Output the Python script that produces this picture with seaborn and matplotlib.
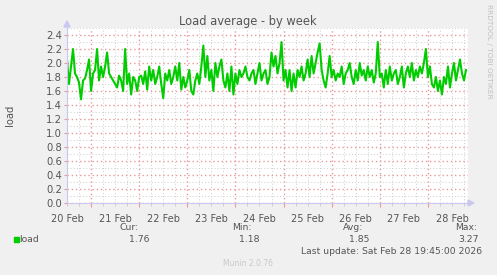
import numpy as np
import pandas as pd
import matplotlib
matplotlib.use("Agg")
import matplotlib.pyplot as plt
import matplotlib.dates as mdates
from matplotlib.patches import Rectangle
from matplotlib.ticker import MultipleLocator, FormatStrFormatter
import seaborn as sns

# ---- data ----
start_time = "2026-02-20 12:00"
load_values = [
    2.05, 1.70, 1.95, 2.20, 1.85, 1.80, 1.72, 1.48, 1.75, 1.78,
    1.90, 2.05, 1.60, 1.85, 1.90, 2.20, 1.75, 1.95, 1.80, 1.95,
    2.15, 1.85, 1.80, 1.75, 1.70, 1.65, 1.82, 1.75, 1.60, 2.20,
    1.70, 1.85, 1.55, 1.80, 1.75, 1.60, 1.80, 1.82, 1.70, 1.88,
    1.62, 1.95, 1.75, 1.90, 1.70, 1.80, 1.95, 1.70, 1.50, 1.85,
    1.75, 1.90, 1.70, 1.80, 1.95, 1.75, 2.00, 1.62, 1.80, 1.65,
    1.75, 1.90, 1.60, 1.55, 1.75, 1.85, 1.70, 1.95, 2.25, 1.80,
    2.10, 1.75, 1.90, 1.60, 2.00, 1.80, 1.95, 2.05, 1.75, 1.65,
    1.85, 1.60, 1.95, 1.55, 1.85, 1.70, 1.90, 1.80, 1.85, 1.95,
    1.80, 1.75, 1.85, 1.90, 1.70, 1.85, 2.00, 1.75, 1.85, 1.90,
    1.70, 1.80, 2.15, 1.95, 2.10, 1.85, 2.00, 2.30, 1.75, 1.90,
    1.65, 1.90, 1.60, 1.85, 1.65, 1.90, 1.80, 1.95, 1.75, 1.85,
    2.05, 1.80, 2.10, 1.85, 2.00, 2.15, 2.28, 1.90, 1.75, 1.65,
    1.85, 2.10, 1.80, 1.90, 1.75, 1.85, 1.80, 1.95, 1.70, 1.85,
    1.90, 2.00, 1.80, 1.70, 1.90, 1.75, 2.00, 1.82, 1.90, 1.75,
    1.95, 1.80, 1.90, 1.72, 1.85, 2.30, 1.80, 1.85, 1.65, 1.90,
    1.70, 1.95, 1.75, 1.85, 1.90, 1.70, 1.80, 1.95, 1.65, 1.85,
    1.95, 1.80, 2.00, 1.75, 1.90, 1.80, 1.95, 1.85, 2.00, 2.20,
    1.80, 1.95, 1.70, 1.65, 1.80, 1.60, 1.75, 1.55, 1.80, 1.70,
    1.95, 1.65, 1.85, 2.00, 1.75, 1.90, 2.05, 1.85, 1.75, 1.90,
]
day_labels = ["20 Feb", "21 Feb", "22 Feb", "23 Feb", "24 Feb",
              "25 Feb", "26 Feb", "27 Feb", "28 Feb"]
legend_headers = ["Cur:", "Min:", "Avg:", "Max:"]
legend_values = ["1.76", "1.18", "1.85", "3.27"]
series_name = "load"
last_update = "Last update: Sat Feb 28 19:45:00 2026"

times = pd.date_range(start_time, periods=len(load_values), freq="h")
df = pd.DataFrame({"time": times, "load": load_values})

W, H = 497, 275
fig = plt.figure(figsize=(W / 100, H / 100), dpi=100, facecolor="#f0f0f0")

def fx(px):
    return px / W

def fy(py):
    return 1 - py / H

L, R, T, B = 67, 468, 28, 203
ax = fig.add_axes([fx(L), fy(B), fx(R) - fx(L), fy(T) - fy(B)])
ax.set_facecolor("white")

t0 = pd.Timestamp(start_time)
ax.set_xlim(t0, t0 + pd.Timedelta(hours=200))
ax.set_ylim(0, 2.5)

# grid
ax.xaxis.set_major_locator(mdates.HourLocator(byhour=[0]))
ax.xaxis.set_minor_locator(mdates.HourLocator(byhour=[6, 12, 18]))
ax.xaxis.set_major_formatter(plt.NullFormatter())
ax.yaxis.set_major_locator(MultipleLocator(0.2))
ax.yaxis.set_minor_locator(MultipleLocator(0.1))
ax.yaxis.set_major_formatter(FormatStrFormatter("%.1f"))
ax.grid(which="minor", color="#d2d2d2", linestyle=(0, (1, 2)), linewidth=0.75)
ax.grid(which="major", color="#e89a9a", linestyle=(0, (1, 2)), linewidth=1.0)
ax.set_axisbelow(True)

sns.lineplot(data=df, x="time", y="load", ax=ax, color="#00cc00",
             linewidth=1.5, legend=False)
ax.set_xlim(t0, t0 + pd.Timedelta(hours=200))
ax.set_ylim(0, 2.5)

for s in ["top", "right"]:
    ax.spines[s].set_visible(False)
for s in ["left", "bottom"]:
    ax.spines[s].set_color("#c8c8f0")
    ax.spines[s].set_linewidth(0.8)

ax.tick_params(axis="x", which="major", length=3, color="#e89a9a", width=0.8)
ax.tick_params(axis="x", which="minor", length=2, color="#cccccc", width=0.7)
ax.tick_params(axis="y", which="major", length=2, color="#e89a9a", width=0.8,
               labelsize=7.2, labelcolor="#555555", pad=1.5)
ax.tick_params(axis="y", which="minor", length=0)
ax.set_xlabel("")
ax.set_ylabel("")

# day labels centered at noon
for i, lab in enumerate(day_labels):
    xpos = mdates.date2num(t0 + pd.Timedelta(days=i))
    ax.text(xpos, -0.06, lab, transform=ax.get_xaxis_transform(),
            ha="center", va="top", fontsize=7.0, color="#555555")

# axis arrows
fig.patches.append(plt.Polygon([[fx(64), fy(27)], [fx(70), fy(27)], [fx(67), fy(21)]],
                               closed=True, transform=fig.transFigure,
                               color="#c8c8f0"))
fig.patches.append(plt.Polygon([[fx(468), fy(200)], [fx(468), fy(206)], [fx(474), fy(203)]],
                               closed=True, transform=fig.transFigure,
                               color="#c8c8f0"))

txt = "#555555"
fig.text(fx(248), fy(21), "Load average - by week", ha="center", va="center",
         fontsize=8.3, color=txt)
fig.text(fx(10), fy(115), "load", ha="center", va="center", rotation=90,
         fontsize=7.2, color=txt)
fig.text(fx(489), fy(51), "RRDTOOL / TOBI OETIKER", ha="center", va="center",
         rotation=270, fontsize=5.3, color="#c0c0c0")

# legend block
fig.patches.append(Rectangle((fx(14), fy(242)), fx(5), fy(237) - fy(242),
                             transform=fig.transFigure, color="#00cc00"))
fs = 6.7
fig.text(fx(19.5), fy(239), series_name, ha="left", va="center", fontsize=fs, color=txt)
head_x = [139, 252, 363, 477]
val_x = [149, 259, 369, 479]
for hx, h in zip(head_x, legend_headers):
    fig.text(fx(hx), fy(227), h, ha="right", va="center", fontsize=fs, color=txt)
for vx, v in zip(val_x, legend_values):
    fig.text(fx(vx), fy(239), v, ha="right", va="center", fontsize=fs, color=txt)
fig.text(fx(482), fy(251), last_update, ha="right", va="center", fontsize=fs, color=txt)
fig.text(fx(248), fy(263), "Munin 2.0.76", ha="center", va="center", fontsize=5.5,
         color="#c8c8c8")

fig.savefig("out.png", dpi=100, facecolor=fig.get_facecolor())
